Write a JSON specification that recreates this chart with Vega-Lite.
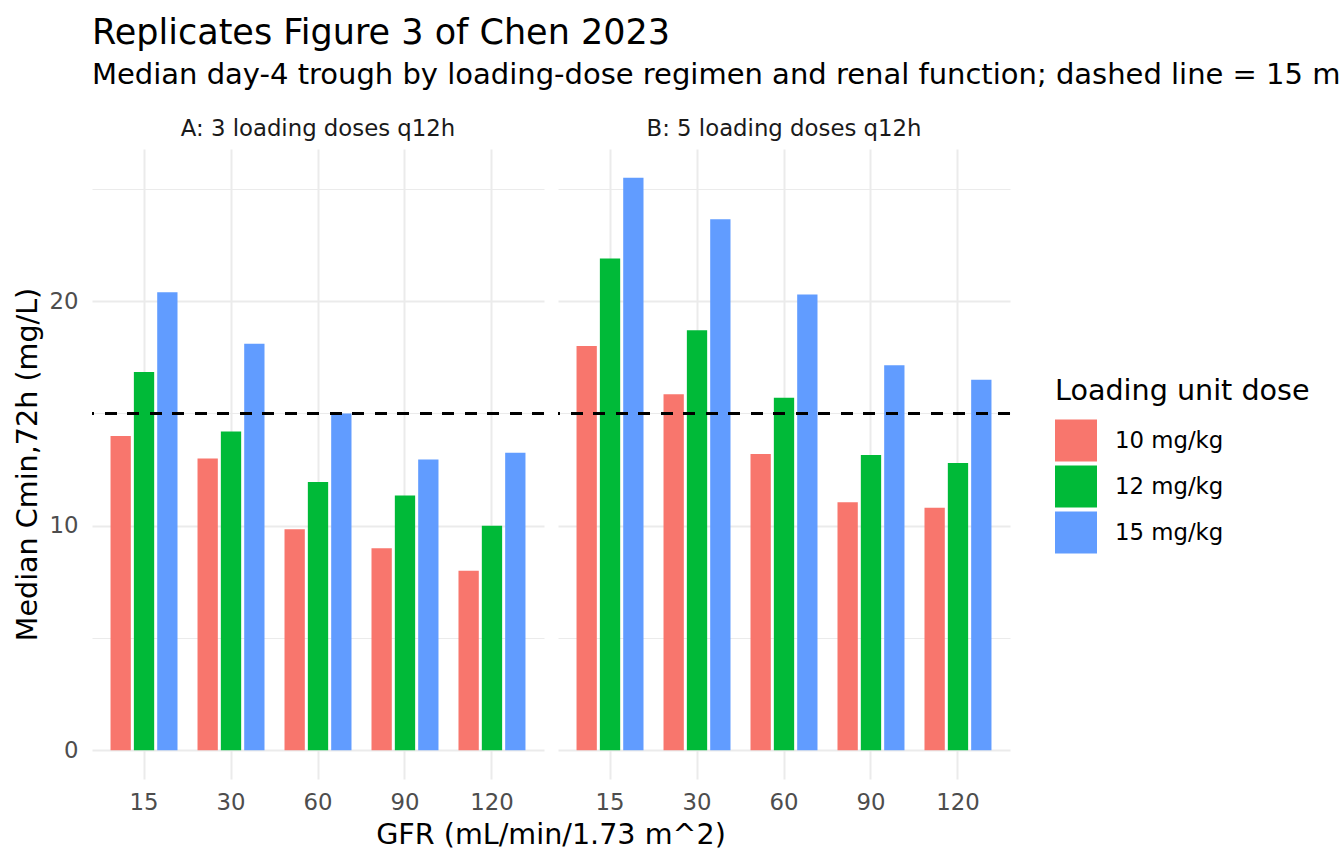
{
  "$schema": "https://vega.github.io/schema/vega-lite/v6.json",
  "background": "white",
  "padding": {"left": 13, "top": 16, "right": 0, "bottom": 0},
  "title": {
    "text": "Replicates Figure 3 of Chen 2023",
    "subtitle": "Median day-4 trough by loading-dose regimen and renal function; dashed line = 15 m",
    "anchor": "start",
    "frame": "bounds",
    "dx": 78,
    "fontSize": 35,
    "fontWeight": "normal",
    "color": "black",
    "subtitleFontSize": 29,
    "subtitleColor": "black",
    "subtitlePadding": 10,
    "offset": 28
  },
  "config": {
    "font": "DejaVu Sans",
    "view": {"stroke": null},
    "axis": {
      "domain": false,
      "ticks": false,
      "tickSize": 0,
      "labelFontSize": 22.8,
      "labelColor": "#4d4d4d",
      "titleFontSize": 28.6,
      "titleFontWeight": "normal",
      "titleColor": "black",
      "gridColor": "#ebebeb"
    }
  },
  "data": {
    "values": [
      {"regimen": "A: 3 loading doses q12h", "gfr": 15, "dose": "10 mg/kg", "cmin": 14.0},
      {"regimen": "A: 3 loading doses q12h", "gfr": 15, "dose": "12 mg/kg", "cmin": 16.85},
      {"regimen": "A: 3 loading doses q12h", "gfr": 15, "dose": "15 mg/kg", "cmin": 20.4},
      {"regimen": "A: 3 loading doses q12h", "gfr": 30, "dose": "10 mg/kg", "cmin": 13.0},
      {"regimen": "A: 3 loading doses q12h", "gfr": 30, "dose": "12 mg/kg", "cmin": 14.2},
      {"regimen": "A: 3 loading doses q12h", "gfr": 30, "dose": "15 mg/kg", "cmin": 18.1},
      {"regimen": "A: 3 loading doses q12h", "gfr": 60, "dose": "10 mg/kg", "cmin": 9.85},
      {"regimen": "A: 3 loading doses q12h", "gfr": 60, "dose": "12 mg/kg", "cmin": 11.95},
      {"regimen": "A: 3 loading doses q12h", "gfr": 60, "dose": "15 mg/kg", "cmin": 15.0},
      {"regimen": "A: 3 loading doses q12h", "gfr": 90, "dose": "10 mg/kg", "cmin": 9.0},
      {"regimen": "A: 3 loading doses q12h", "gfr": 90, "dose": "12 mg/kg", "cmin": 11.35},
      {"regimen": "A: 3 loading doses q12h", "gfr": 90, "dose": "15 mg/kg", "cmin": 12.95},
      {"regimen": "A: 3 loading doses q12h", "gfr": 120, "dose": "10 mg/kg", "cmin": 8.0},
      {"regimen": "A: 3 loading doses q12h", "gfr": 120, "dose": "12 mg/kg", "cmin": 10.0},
      {"regimen": "A: 3 loading doses q12h", "gfr": 120, "dose": "15 mg/kg", "cmin": 13.25},
      {"regimen": "B: 5 loading doses q12h", "gfr": 15, "dose": "10 mg/kg", "cmin": 18.0},
      {"regimen": "B: 5 loading doses q12h", "gfr": 15, "dose": "12 mg/kg", "cmin": 21.9},
      {"regimen": "B: 5 loading doses q12h", "gfr": 15, "dose": "15 mg/kg", "cmin": 25.5},
      {"regimen": "B: 5 loading doses q12h", "gfr": 30, "dose": "10 mg/kg", "cmin": 15.85},
      {"regimen": "B: 5 loading doses q12h", "gfr": 30, "dose": "12 mg/kg", "cmin": 18.7},
      {"regimen": "B: 5 loading doses q12h", "gfr": 30, "dose": "15 mg/kg", "cmin": 23.65},
      {"regimen": "B: 5 loading doses q12h", "gfr": 60, "dose": "10 mg/kg", "cmin": 13.2},
      {"regimen": "B: 5 loading doses q12h", "gfr": 60, "dose": "12 mg/kg", "cmin": 15.7},
      {"regimen": "B: 5 loading doses q12h", "gfr": 60, "dose": "15 mg/kg", "cmin": 20.3},
      {"regimen": "B: 5 loading doses q12h", "gfr": 90, "dose": "10 mg/kg", "cmin": 11.05},
      {"regimen": "B: 5 loading doses q12h", "gfr": 90, "dose": "12 mg/kg", "cmin": 13.15},
      {"regimen": "B: 5 loading doses q12h", "gfr": 90, "dose": "15 mg/kg", "cmin": 17.15},
      {"regimen": "B: 5 loading doses q12h", "gfr": 120, "dose": "10 mg/kg", "cmin": 10.8},
      {"regimen": "B: 5 loading doses q12h", "gfr": 120, "dose": "12 mg/kg", "cmin": 12.8},
      {"regimen": "B: 5 loading doses q12h", "gfr": 120, "dose": "15 mg/kg", "cmin": 16.5}
    ]
  },
  "facet": {
    "column": {
      "field": "regimen",
      "type": "nominal",
      "title": "GFR (mL/min/1.73 m^2)",
      "header": {
        "labelOrient": "top",
        "titleOrient": "bottom",
        "labelFontSize": 22.8,
        "labelColor": "#1a1a1a",
        "labelPadding": 8,
        "titleFontSize": 28.6,
        "titleFontWeight": "normal",
        "titleColor": "black",
        "titlePadding": -3
      }
    }
  },
  "spacing": 10,
  "spec": {
    "width": 452,
    "height": 630,
    "layer": [
      {
        "mark": {"type": "bar"},
        "encoding": {
          "x": {
            "field": "gfr",
            "type": "ordinal",
            "title": null,
            "scale": {"paddingInner": 0.23, "paddingOuter": 0.213},
            "axis": {"grid": true, "gridWidth": 2, "bandPosition": 0.5, "labelAngle": 0, "labelPadding": 12}
          },
          "xOffset": {
            "field": "dose",
            "type": "nominal",
            "scale": {"paddingInner": 0.13, "paddingOuter": 0}
          },
          "y": {
            "field": "cmin",
            "type": "quantitative",
            "title": "Median Cmin,72h (mg/L)",
            "scale": {"domain": [-1.275, 26.775], "nice": false, "zero": false},
            "axis": {
              "values": [0, 5, 10, 15, 20, 25],
              "labelExpr": "datum.value % 10 === 0 ? datum.label : ''",
              "grid": true,
              "gridWidth": {"condition": {"test": "datum.value % 10 === 0", "value": 2}, "value": 1},
              "labelPadding": 12,
              "titlePadding": 6
            }
          },
          "color": {
            "field": "dose",
            "type": "nominal",
            "title": "Loading unit dose",
            "scale": {
              "domain": ["10 mg/kg", "12 mg/kg", "15 mg/kg"],
              "range": ["#F8766D", "#00BA38", "#619CFF"]
            },
            "legend": {
              "orient": "none",
              "legendX": 963,
              "legendY": 228,
              "titleFontSize": 28.6,
              "titleFontWeight": "normal",
              "titleColor": "black",
              "titlePadding": 14,
              "titleLimit": 500,
              "labelFontSize": 22.8,
              "labelColor": "black",
              "labelOffset": 18,
              "labelLimit": 300,
              "symbolType": "square",
              "symbolSize": 1764,
              "symbolStrokeWidth": 0,
              "symbolOpacity": 1,
              "rowPadding": 4
            }
          }
        }
      },
      {
        "mark": {"type": "rule", "color": "black", "strokeWidth": 2.6, "strokeDash": [11.5, 11]},
        "encoding": {
          "y": {"datum": 15, "type": "quantitative"}
        }
      }
    ]
  }
}
